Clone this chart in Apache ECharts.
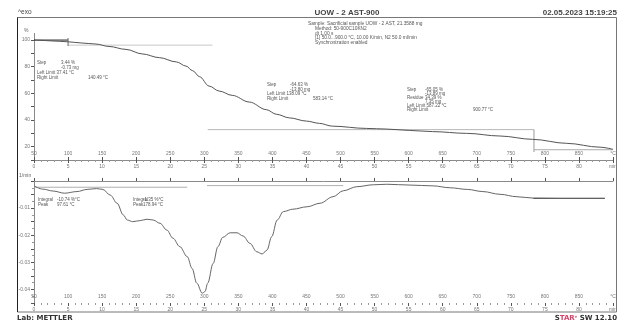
<!DOCTYPE html>
<html><head><meta charset="utf-8">
<script src="https://cdn.jsdelivr.net/npm/echarts@6/dist/echarts.min.js"></script>
<style>html,body{margin:0;padding:0;background:#fff}#c{width:622px;height:324px}</style>
</head><body><div id="c"></div>
<script>
// ---- data ----
const tgaTemp = [50,60,75,100,120,141,160,185,209,234,259,273,283,293,307,322,341,366,391,406,425,450,469,488,538,568,601,635,685,734,782,832,881,900];
const tgaMass = [100,99.8,99.4,98.7,97.8,97,95.2,93,89.6,86.8,83.6,80.5,77,72.5,65.5,61.7,58.5,53.5,47.8,44.3,41.6,39.2,37.5,35.4,33.7,33.2,32.2,31.3,30,28,25.5,22.5,19.6,18];

const dtgTemp = [50,63,78,95,113,128,142,151,162,172,181,187,195,206,216,225,235,245,254,264,275,282,289,297,301,305,313,320,327,338,348,357,367,377,385,392,399,407,416,430,451,470,489,504,524,548,568,602,636,661,686,709,734,759,783,822,888];
const dtgRate = [-0.0018,-0.0030,-0.0037,-0.0045,-0.0039,-0.0031,-0.0028,-0.0031,-0.0052,-0.0082,-0.0125,-0.0144,-0.0150,-0.0146,-0.0141,-0.0144,-0.0156,-0.0181,-0.0211,-0.0242,-0.0279,-0.0322,-0.0377,-0.0414,-0.0408,-0.0377,-0.0304,-0.0242,-0.0208,-0.0191,-0.0191,-0.0203,-0.0230,-0.0261,-0.0269,-0.0255,-0.0205,-0.0144,-0.0113,-0.0104,-0.0095,-0.0082,-0.0058,-0.0036,-0.0021,-0.0014,-0.0012,-0.0015,-0.0018,-0.0025,-0.0031,-0.0039,-0.0049,-0.0058,-0.0063,-0.0064,-0.0064];

// step evaluation construction lines (temperature °C, value)
const stepLineA = [[50,100],[100,100]];
const stepTickA = [[100,101.5],[100,95.5]];
const stepLineB = [[100,96.2],[312,96.2]];
const stepLineC = [[305,32.8],[784,32.8]];
const stepTickC = [[784,32.8],[784,16.0]];
const stepLineD = [[784,17.7],[900,17.7]];
// DTG integration baselines
const baseA = [[50,-0.0023],[275,-0.0023]];
const baseB = [[304,-0.0017],[504,-0.0017]];
const baseC = [[783,-0.0064],[888,-0.0064]];

const tempMin = 50, tempMax = 900, tempStep = 50;
const timeMin = 0, timeMax = 85, timeStep = 5;

// ---- chart ----
const F = '"Liberation Sans", Arial, sans-serif';
const tickFont = {fontSize: 5, color: '#777', fontFamily: F};
const axisCol = '#8a8a8a';

function tempAxis(gi){
  return {gridIndex: gi, type:'value', min:tempMin, max:tempMax, interval:tempStep, position:'bottom',
    axisLine:{show:true, lineStyle:{color:axisCol, width:1}},
    axisTick:{show:true, inside:true, length:3, lineStyle:{color:'#555'}},
    axisLabel:Object.assign({inside:true, margin:4, formatter:v=> v===tempMax ? '°C' : String(v)}, tickFont),
    splitLine:{show:false}};
}
function timeAxis(gi){
  return {gridIndex: gi, type:'value', min:timeMin, max:timeMax, interval:timeStep, position:'bottom',
    axisLine:{show:false},
    axisTick:{show:true, inside:false, length:3, lineStyle:{color:'#555'}},
    minorTick:{show:true, splitNumber:5, length:2, lineStyle:{color:'#999'}},
    axisLabel:Object.assign({margin:4, formatter:v=> v===timeMax ? 'min' : String(v)}, tickFont),
    splitLine:{show:false}};
}
const pairs = (xs, ys) => xs.map((x,i)=>[x, ys[i]]);
function seg(data, xi, yi, color, width){
  return {type:'line', xAxisIndex:xi, yAxisIndex:yi, data:data, symbol:'none', silent:true,
    lineStyle:{color:color, width:width||1}, z:1, animation:false};
}
function txt(x,y,text,opt){
  opt = opt||{};
  return {type:'text', x:x, y:y, silent:true, style:{text:text, fill:opt.fill||'#555',
    font:(opt.weight||'normal')+' '+(opt.size||4.5)+'px '+(opt.family||F),
    textAlign:opt.align||'left', textVerticalAlign:'middle'}};
}

const chart = echarts.init(document.getElementById('c'), null, {renderer:'canvas'});
const option = {
  animation:false,
  backgroundColor:'#fff',
  grid:[
    {left:34, width:579, top:33.4, height:126.6, containLabel:false, outerBoundsMode:'none'},
    {left:34, width:579, top:181, height:122, containLabel:false, outerBoundsMode:'none'}
  ],
  xAxis:[tempAxis(0), timeAxis(0), tempAxis(1), timeAxis(1)],
  yAxis:[
    {gridIndex:0, type:'value', min:10, max:105, interval:10,
     axisLine:{show:true, lineStyle:{color:axisCol}},
     axisTick:{show:true, length:3, lineStyle:{color:'#555'}},
     axisLabel:Object.assign({margin:4, showMaxLabel:false, formatter:v=> (v%20===0) ? String(v) : ''}, tickFont),
     splitLine:{show:false}},
    {gridIndex:1, type:'value', min:-0.045, max:0, interval:0.005,
     axisLine:{show:true, lineStyle:{color:axisCol}},
     axisTick:{show:true, length:3, lineStyle:{color:'#555'}},
     minorTick:{show:true, splitNumber:2, length:2, lineStyle:{color:'#999'}},
     axisLabel:Object.assign({margin:4, formatter:v=>{
        const k = Math.round(v*100);
        return (Math.abs(v*100-k)<1e-6 && k!==0) ? k/100 + '' : '';
     }}, tickFont),
     splitLine:{show:false}}
  ],
  series:[
    seg(stepLineB, 0, 0, '#c8c8c8'),
    seg(stepLineC, 0, 0, '#b8b8b8'),
    seg(stepTickC, 0, 0, '#999'),
    seg(stepLineD, 0, 0, '#aaa'),
    seg(stepLineA, 0, 0, '#222'),
    seg(stepTickA, 0, 0, '#666'),
    {type:'line', xAxisIndex:0, yAxisIndex:0, data:pairs(tgaTemp,tgaMass), symbol:'none',
     smooth:0.35, smoothMonotone:'x', lineStyle:{color:'#555', width:1}, z:3},
    seg(baseA, 2, 1, '#b0b0b0'),
    seg(baseB, 2, 1, '#b0b0b0'),
    seg(baseC, 2, 1, '#333'),
    {type:'line', xAxisIndex:2, yAxisIndex:1, data:pairs(dtgTemp,dtgRate), symbol:'none',
     smooth:0.35, smoothMonotone:'x', lineStyle:{color:'#666', width:1}, z:3}
  ],
  graphic:[
    {type:'rect', silent:true, shape:{x:17.5, y:17.5, width:599, height:294.5}, style:{fill:'none', stroke:'#777', lineWidth:1}},
    {type:'line', silent:true, shape:{x1:17.5, y1:17.5, x2:17.5, y2:312}, style:{stroke:'#222', lineWidth:1}},
    txt(18,12,'^exo',{size:6.5, fill:'#444'}),
    txt(347,12.5,'UOW - 2 AST-900',{size:8, weight:'bold', align:'center', fill:'#444'}),
    txt(617,12.5,'02.05.2023 15:19:25',{size:8, weight:'bold', align:'right', fill:'#444'}),
    txt(24,31,'%',{size:5, fill:'#666'}),
    txt(19,176,'1/min',{size:5, fill:'#666'}),
    // sample info
    txt(308,24,'Sample: Sacrificial sample UOW - 2 AST, 21.3588 mg',{size:4.8}),
    txt(315,29,'Method: 50-900C10KN2',{size:4.8}),
    txt(315,33.5,'dt 1.00 s',{size:4.8}),
    txt(315,38,'[1] 50.0...900.0 °C, 10.00 K/min, N2 50.0 ml/min',{size:4.8}),
    txt(315,42.5,'Synchronization enabled',{size:4.8}),
    // step 1
    txt(37,63,'Step'), txt(61,63,'3.44 %'), txt(61,68,'-0.73 mg'),
    txt(37,73,'Left Limit 37.41 °C'), txt(37,78,'Right Limit'), txt(88,78,'140.49 °C'),
    // step 2
    txt(267,85,'Step'), txt(290,85,'-64.63 %'), txt(290,89.5,'-13.80 mg'),
    txt(267,94,'Left Limit 138.09 °C'), txt(267,98.5,'Right Limit'), txt(313,98.5,'583.14 °C'),
    // step 3
    txt(407,90,'Step'), txt(425,90,'-65.05 %'), txt(425,94,'-13.89 mg'),
    txt(407,98,'Residue'), txt(425,98,'34.39 %'), txt(425,102,'7.35 mg'),
    txt(407,106,'Left Limit 587.22 °C'), txt(407,110,'Right Limit'), txt(473,110,'900.77 °C'),
    // DTG peaks
    txt(38,200,'Integral'), txt(57,200,'-10.74 %°C'), txt(38,205,'Peak'), txt(57,205,'97.61 °C'),
    txt(133,200,'Integral'), txt(143,200,'-1.35 %°C'), txt(133,205,'Peak'), txt(143,205,'178.94 °C'),
    // footer
    txt(17,318.5,'Lab: METTLER',{size:7, weight:'bold', fill:'#333', family:'"DejaVu Sans", sans-serif'}),
    {type:'text', x:617, y:318.5, silent:true, style:{
      text:'{s|S}{r|TAR}{e|e}{s| SW 12.10}', textAlign:'right', textVerticalAlign:'middle',
      rich:{s:{fontSize:7, fontWeight:'bold', fill:'#333', color:'#333', fontFamily:'"DejaVu Sans", sans-serif'},
            r:{fontSize:7, fontWeight:'bold', fill:'#d8406a', color:'#d8406a', fontFamily:'"DejaVu Sans", sans-serif'},
            e:{fontSize:4, fill:'#d8406a', color:'#d8406a', verticalAlign:'top', fontFamily:'"DejaVu Sans", sans-serif'}}}}
  ]
};
chart.setOption(option);
</script></body></html>
